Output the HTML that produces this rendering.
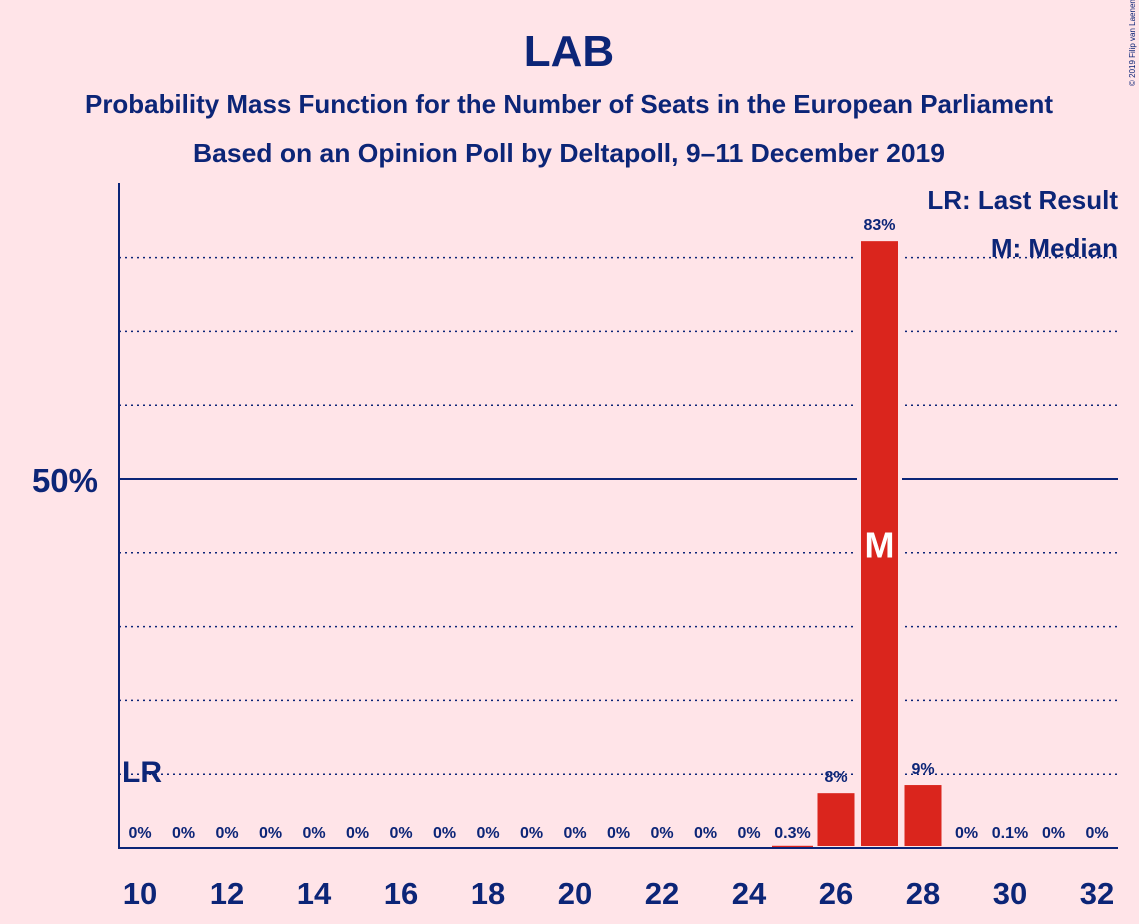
<!DOCTYPE html>
<html><head><meta charset="utf-8"><style>
body{margin:0;background:#FFE4E8;}
svg{display:block;font-family:"Liberation Sans",sans-serif;}
</style></head><body>
<svg width="1139" height="924" viewBox="0 0 1139 924">
<rect width="1139" height="924" fill="#FFE4E8"/>
<text x="569" y="66" text-anchor="middle" font-size="44" font-weight="bold" fill="#0C2577">LAB</text>
<text x="569" y="113" text-anchor="middle" font-size="26" font-weight="bold" fill="#0C2577" textLength="968" lengthAdjust="spacingAndGlyphs">Probability Mass Function for the Number of Seats in the European Parliament</text>
<text x="569" y="162" text-anchor="middle" font-size="26" font-weight="bold" fill="#0C2577" textLength="752" lengthAdjust="spacingAndGlyphs">Based on an Opinion Poll by Deltapoll, 9–11 December 2019</text>
<text transform="translate(1135,86) rotate(-90)" font-size="8" fill="#0C2577">© 2019 Filip van Laenen</text>
<g id="grid"></g>
<g id="bars"></g>
<line x1="119" y1="183" x2="119" y2="849" stroke="#0C2577" stroke-width="2"/>
<line x1="118" y1="848" x2="1118" y2="848" stroke="#0C2577" stroke-width="2"/>
<text x="98" y="492" text-anchor="end" font-size="33" font-weight="bold" fill="#0C2577">50%</text>
<text x="1118" y="209" text-anchor="end" font-size="26" font-weight="bold" fill="#0C2577">LR: Last Result</text>
<text x="1118" y="257" text-anchor="end" font-size="26" font-weight="bold" fill="#0C2577">M: Median</text>
<g id="labels"></g>
</svg>
<script>
const seats=[10,11,12,13,14,15,16,17,18,19,20,21,22,23,24,25,26,27,28,29,30,31,32];
const probs=[0,0,0,0,0,0,0,0,0,0,0,0,0,0,0,0.3,7.7,82.5,8.8,0,0.1,0,0];
const probLabels=["0%","0%","0%","0%","0%","0%","0%","0%","0%","0%","0%","0%","0%","0%","0%","0.3%","8%","83%","9%","0%","0.1%","0%","0%"];
const xTicks=[10,12,14,16,18,20,22,24,26,28,30,32];
const gridVals=[10,20,30,40,60,70,80];
const lastResult=10, median=27;
const NS="http://www.w3.org/2000/svg";
const x=s=>140+(s-10)*43.5;
const y=p=>848-p*7.38;
function mk(t,a,parent,txt){const e=document.createElementNS(NS,t);for(const k in a)e.setAttribute(k,a[k]);if(txt!==undefined)e.textContent=txt;document.getElementById(parent).appendChild(e);return e;}
gridVals.forEach(v=>{const l=mk('line',{x1:119,x2:1118,y1:y(v),y2:y(v),stroke:'#0C2577','stroke-width':1.5,'stroke-dasharray':'2,4'},'grid');

});
const l50=mk('line',{x1:119,x2:1118,y1:y(50),y2:y(50),stroke:'#0C2577','stroke-width':2},'grid');


seats.forEach((s,i)=>{
 const p=probs[i];
 if(p>0){const r=mk('rect',{x:x(s)-20.5,y:y(p),width:41,height:848-y(p),fill:'#DA251D',stroke:'#FFE4E8','stroke-width':p>1?4:0},'bars');
 
 }
 const ly=p>1?y(p)-9:838;
 const t=mk('text',{x:x(s),y:ly,'text-anchor':'middle','font-size':16,'font-weight':'bold',fill:'#0C2577'},'labels',probLabels[i]);
 
 
 if(s===median){const m=mk('text',{x:x(s),y:y(p/2)+14,'text-anchor':'middle','font-size':36,'font-weight':'bold',fill:'#fff'},'labels','M');
 
 }
});
xTicks.forEach(s=>{const t=mk('text',{x:x(s),y:904,'text-anchor':'middle','font-size':31,'font-weight':'bold',fill:'#0C2577'},'labels',s);

});
const lr=mk('text',{x:x(lastResult)-18,y:y(10)+8,'font-size':30,'font-weight':'bold',fill:'#0C2577'},'labels','LR');


</script>
</body></html>
